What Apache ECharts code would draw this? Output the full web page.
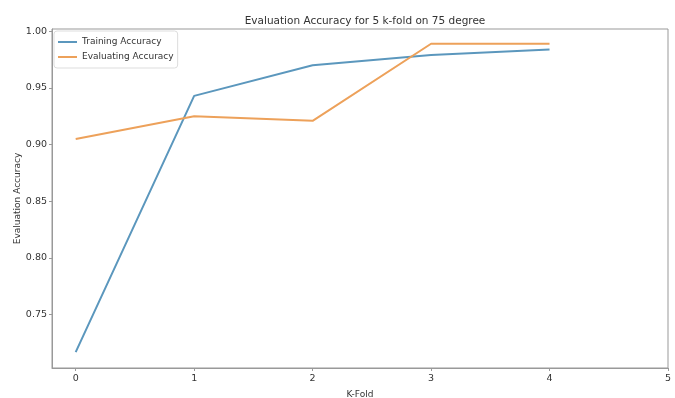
<!DOCTYPE html>
<html>
<head>
<meta charset="utf-8">
<script src="https://cdn.jsdelivr.net/npm/echarts@6/dist/echarts.min.js"></script>
<style>
    html, body { margin: 0; padding: 0; background: #fff; }
    #chart { width: 675px; height: 398px; }
</style>
</head>
<body>
<div id="chart"></div>
<script>
    // k-fold index
    var folds = [0, 1, 2, 3, 4];
    var trainingAcc = [0.717, 0.943, 0.970, 0.979, 0.984];
    var evaluatingAcc = [0.905, 0.925, 0.921, 0.989, 0.989];
    var xTicks = [0, 1, 2, 3, 4, 5];
    var yTicks = [0.75, 0.80, 0.85, 0.90, 0.95, 1.00];

    function pairs(ys) {
        return folds.map(function (x, i) { return [x, ys[i]]; });
    }

    var myChart = echarts.init(document.getElementById("chart"));
    var font = "DejaVu Sans";
    myChart.setOption({
        animation: false,
        title: {
            text: "Evaluation Accuracy for 5 k-fold on 75 degree",
            left: 360,
            textAlign: "center",
            top: 11,
            textStyle: { fontFamily: font, fontSize: 10.5, fontWeight: "normal", color: "#333" }
        },
        legend: {
            orient: "vertical",
            left: 54,
            top: 31,
            padding: [6, 4, 6, 4],
            itemGap: 5,
            itemWidth: 19,
            itemHeight: 2,
            icon: "rect",
            borderColor: "#ddd",
            borderWidth: 1,
            borderRadius: 3,
            textStyle: { fontFamily: font, fontSize: 9, color: "#333", lineHeight: 10 },
            data: ["Training Accuracy", "Evaluating Accuracy"]
        },
        grid: {
            left: 52, right: 7, top: 29, bottom: 30,
            outerBoundsMode: "none",
            show: true, borderColor: "#999", borderWidth: 1
        },
        xAxis: {
            type: "value",
            min: -0.2,
            max: 5,
            name: "K-Fold",
            nameLocation: "middle",
            nameGap: 22,
            nameMoveOverlap: false,
            nameTextStyle: { fontFamily: font, fontSize: 9, color: "#333" },
            axisLine: { show: true, onZero: false, lineStyle: { color: "#999" } },
            axisTick: { show: true, length: 3, customValues: xTicks, lineStyle: { color: "#999" } },
            axisLabel: { customValues: xTicks, fontFamily: font, fontSize: 9.5, color: "#333", margin: 6 },
            splitLine: { show: false }
        },
        yAxis: {
            type: "value",
            min: 0.703,
            max: 1.002,
            name: "Evaluation Accuracy",
            nameLocation: "middle",
            nameGap: 30,
            nameMoveOverlap: false,
            nameTextStyle: { fontFamily: font, fontSize: 9, color: "#333" },
            axisLine: { show: true, onZero: false, lineStyle: { color: "#999" } },
            axisTick: { show: true, length: 3, customValues: yTicks, lineStyle: { color: "#999" } },
            axisLabel: {
                customValues: yTicks,
                fontFamily: font, fontSize: 9.5, color: "#333", margin: 5,
                formatter: function (v) { return v.toFixed(2); }
            },
            splitLine: { show: false }
        },
        series: [
            {
                name: "Training Accuracy",
                type: "line",
                data: pairs(trainingAcc),
                showSymbol: false,
                lineStyle: { color: "#5b97bd", width: 2 },
                itemStyle: { color: "#5b97bd" }
            },
            {
                name: "Evaluating Accuracy",
                type: "line",
                data: pairs(evaluatingAcc),
                showSymbol: false,
                lineStyle: { color: "#eda15a", width: 2 },
                itemStyle: { color: "#eda15a" }
            }
        ]
    });
</script>
</body>
</html>
